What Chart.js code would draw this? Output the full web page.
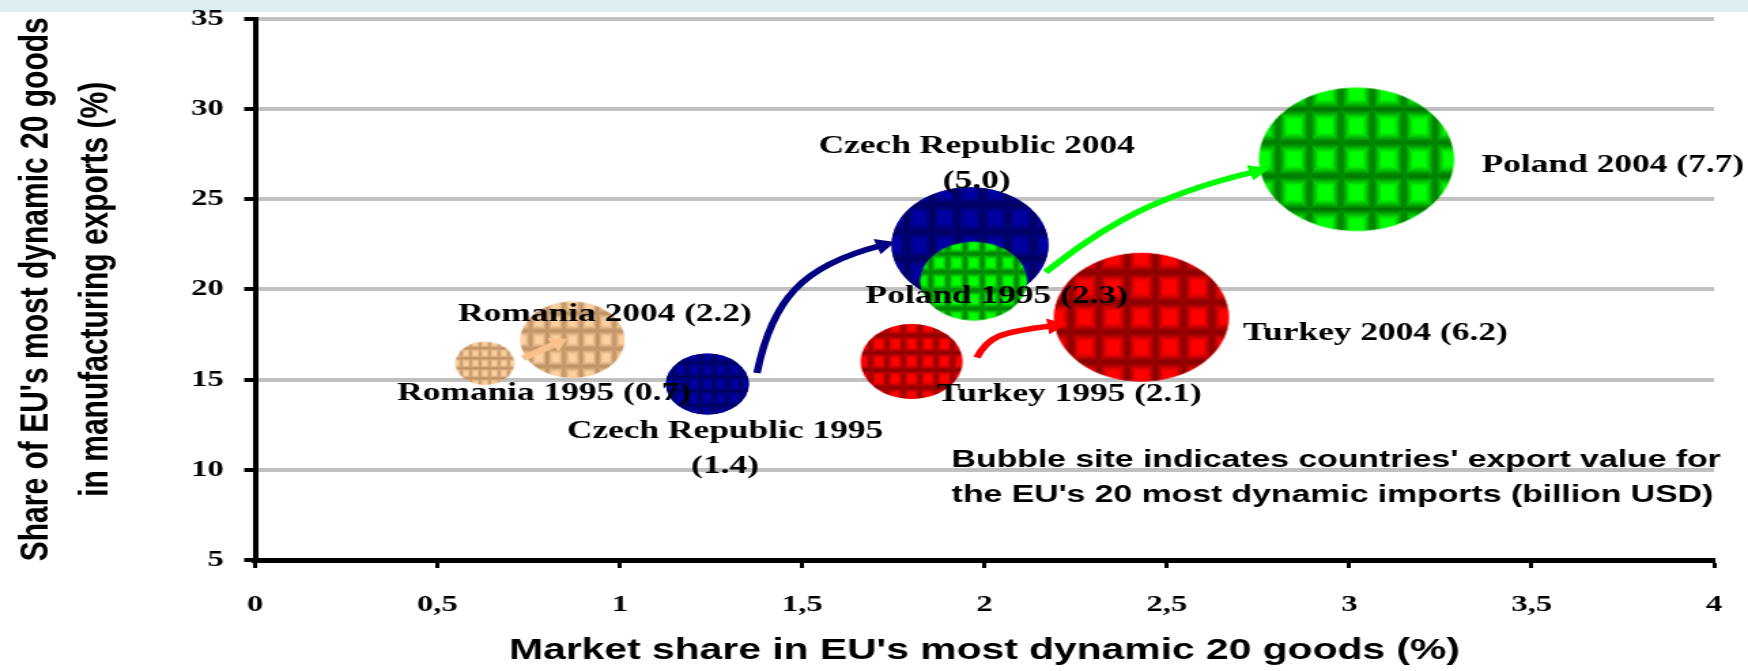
<!DOCTYPE html>
<html>
<head>
<meta charset="utf-8">
<script src="https://cdn.jsdelivr.net/npm/chart.js@4/dist/chart.umd.min.js"></script>
<style>
html,body{margin:0;padding:0;background:#fff;overflow:hidden}
#c{display:block;width:1748px;height:671px}
</style>
</head>
<body>
<canvas id="c" width="1285" height="671" style="width:1748px;height:671px"></canvas>
<script>
// ---------------- DATA ----------------
const countries = ['Romania', 'Czech Republic', 'Poland', 'Turkey'];
const years = ['1995', '2004'];
// Market share in EU's most dynamic 20 goods (%)
const share1995 = [0.63, 1.24, 1.97, 1.80];
const share2004 = [0.87, 1.96, 3.02, 2.43];
// Share of EU's most dynamic 20 goods in manufacturing exports (%)
const dyn1995 = [15.9, 14.75, 20.45, 16.0];
const dyn2004 = [17.2, 22.45, 27.2, 18.45];
// Export value for the EU's 20 most dynamic imports (billion USD)
const exp1995 = [0.7, 1.4, 2.3, 2.1];
const exp2004 = [2.2, 5.0, 7.7, 6.2];
const xTickLabels = ['0', '0,5', '1', '1,5', '2', '2,5', '3', '3,5', '4'];
const yTickLabels = ['5', '10', '15', '20', '25', '30', '35'];
const xTitle = "Market share in EU's most dynamic 20 goods (%)";
const yTitle = ["Share of EU's most dynamic 20 goods", "in manufacturing exports (%)"];
const note = ["Bubble site indicates countries' export value for", "the EU's 20 most dynamic imports (billion USD)"];

// ---------------- STYLE ----------------
const BUBBLE_SCALE = 25.8;
const darkCol = ['#b4865a', '#000058', '#006a00', '#780000'];
const lightCol = ['#fcd1a0', '#0000a2', '#00ff00', '#ff0000'];
const arrowCol = ['#f9c28c', '#000080', '#00ff00', '#ff0000'];
const serif = "'Liberation Serif','Times New Roman',serif";
const sans = "'Liberation Sans',Arial,sans-serif";

// label placement (pixel offsets from bubble centre)
const labelPos = [
  [{dx: 43.5, dy: 37}, {dx: 13, dy: 54}, {dx: 17, dy: 22}, {dx: 116, dy: 40}],
  [{dx: 24, dy: -19}, {dx: 5, dy: -92}, {dx: 92, dy: 13, align: 'left'}, {dx: 172, dy: 23}]
];
// note placement (data coordinates of each line's left baseline)
const notePos = {x: 1.91, y: [10.15, 8.2]};
// arrow geometry (pixel offsets)
const arrowGeom = [
  {s: [28, -5], e: [-4, -1], c1: [0, 0], c2: [0, 0], w: 6, hl: 12, hw: 8, straight: true},
  {s: [36.5, -11], e: [-55, -3], c1: [11, -73], c2: [-58, 20], w: 5.5, hl: 14, hw: 8},
  {s: [53, -9], e: [-64, 9], c1: [32, -34], c2: [-84, 27], w: 5.5, hl: 15, hw: 8},
  {s: [48, -4], e: [-55, 7], c1: [8, -20], c2: [-39, 6], w: 5.5, hl: 14, hw: 8}
];

function rad(v) { return Math.sqrt(v) * BUBBLE_SCALE; }

function tri(g, ax, ay, bx, by, mx, my, gx0, gy0, gx1, gy1, dark, light) {
  const gr = g.createLinearGradient(gx0, gy0, gx1, gy1);
  gr.addColorStop(0, dark);
  gr.addColorStop(0.6, light);
  gr.addColorStop(1, light);
  g.fillStyle = gr;
  g.beginPath(); g.moveTo(ax, ay); g.lineTo(bx, by); g.lineTo(mx, my); g.closePath(); g.fill();
}

function makeBubbleImage(r, dark, light) {
  const size = Math.ceil(2 * r) + 2;
  const c = document.createElement('canvas');
  c.width = size; c.height = size;
  const g = c.getContext('2d');
  const cx = size / 2, cy = size / 2;
  g.save();
  g.beginPath(); g.arc(cx, cy, r, 0, Math.PI * 2); g.clip();
  g.fillStyle = light; g.fillRect(0, 0, size, size);
  const cw = 2 * r / 6.2, ch = 2 * r / 4.3;
  const ox = cx - r - cw * 0.4, oy = cy - r - ch * 0.35;
  for (let x0 = ox; x0 < size; x0 += cw) {
    for (let y0 = oy; y0 < size; y0 += ch) {
      const x1 = x0 + cw, y1 = y0 + ch, mx = x0 + cw / 2, my = y0 + ch / 2;
      tri(g, x0, y0, x1 + 0.3, y0, mx, my, mx, y0, mx, my, dark, light);
      tri(g, x0, y1, x1 + 0.3, y1, mx, my, mx, y1, mx, my, dark, light);
      tri(g, x0, y0, x0, y1 + 0.3, mx, my, x0, my, mx, my, dark, light);
      tri(g, x1, y0, x1, y1 + 0.3, mx, my, x1, my, mx, my, dark, light);
    }
  }
  g.restore();
  return c;
}

const images = [
  exp1995.map((v, i) => makeBubbleImage(rad(v), darkCol[i], lightCol[i])),
  exp2004.map((v, i) => makeBubbleImage(rad(v), darkCol[i], lightCol[i]))
];

function labelLines(i, year, v) {
  const t = `${countries[i]} ${year}`;
  const val = `(${v.toFixed(1)})`;
  return countries[i] === 'Czech Republic' ? [t, val] : [`${t} ${val}`];
}

const bandPlugin = {
  id: 'band',
  beforeDraw(chart) {
    const ctx = chart.ctx;
    ctx.save();
    ctx.fillStyle = '#ffffff';
    ctx.fillRect(0, 0, chart.width, chart.height);
    ctx.fillStyle = '#ddeef2';
    ctx.fillRect(0, 0, chart.width, 12);
    ctx.restore();
  }
};

function drawArrow(ctx, p0, p1, p2, p3, col, w, hl, hw) {
  const ang = Math.atan2(p3[1] - p2[1], p3[0] - p2[0]);
  const ux = Math.cos(ang), uy = Math.sin(ang);
  const end = [p3[0] - ux * hl * 0.8, p3[1] - uy * hl * 0.8];
  const c2 = [p2[0] - ux * hl * 0.8, p2[1] - uy * hl * 0.8];
  ctx.save();
  ctx.strokeStyle = col; ctx.fillStyle = col; ctx.lineWidth = w; ctx.lineCap = 'butt';
  ctx.beginPath();
  ctx.moveTo(p0[0], p0[1]);
  ctx.bezierCurveTo(p1[0], p1[1], c2[0], c2[1], end[0], end[1]);
  ctx.stroke();
  const bx = p3[0] - ux * hl, by = p3[1] - uy * hl;
  ctx.beginPath();
  ctx.moveTo(p3[0], p3[1]);
  ctx.lineTo(bx - uy * hw, by + ux * hw);
  ctx.lineTo(bx + uy * hw, by - ux * hw);
  ctx.closePath(); ctx.fill();
  ctx.restore();
}

const annotPlugin = {
  id: 'annot',
  afterDatasetsDraw(chart) {
    const ctx = chart.ctx;
    const m95 = chart.getDatasetMeta(0).data, m04 = chart.getDatasetMeta(1).data;
    // arrows
    countries.forEach((c, i) => {
      const a = arrowGeom[i];
      const s = [m95[i].x + a.s[0], m95[i].y + a.s[1]];
      const e = [m04[i].x + a.e[0], m04[i].y + a.e[1]];
      let c1, c2;
      if (a.straight) { c1 = [s[0] + (e[0] - s[0]) / 3, s[1] + (e[1] - s[1]) / 3]; c2 = [s[0] + 2 * (e[0] - s[0]) / 3, s[1] + 2 * (e[1] - s[1]) / 3]; }
      else { c1 = [s[0] + a.c1[0], s[1] + a.c1[1]]; c2 = [e[0] + a.c2[0], e[1] + a.c2[1]]; }
      drawArrow(ctx, s, c1, c2, e, arrowCol[i], a.w, a.hl, a.hw);
    });
    // labels
    ctx.save();
    ctx.fillStyle = '#000';
    ctx.font = `bold 26px ${serif}`;
    ctx.textBaseline = 'alphabetic';
    [[m95, exp1995], [m04, exp2004]].forEach(([meta, vals], k) => {
      vals.forEach((v, i) => {
        const p = labelPos[k][i];
        const lines = labelLines(i, years[k], v);
        ctx.textAlign = p.align || 'center';
        lines.forEach((ln, j) => ctx.fillText(ln, meta[i].x + p.dx, meta[i].y + p.dy + j * 35));
      });
    });
    // note
    ctx.font = `bold 24.8px ${sans}`;
    ctx.textAlign = 'left';
    const xs = chart.scales.x, ys = chart.scales.y;
    note.forEach((ln, j) => ctx.fillText(ln, xs.getPixelForValue(notePos.x), ys.getPixelForValue(notePos.y[j])));
    ctx.restore();
  }
};

const toPoints = (xs, ys, vs) => xs.map((x, i) => ({x, y: ys[i], r: rad(vs[i])}));

new Chart(document.getElementById('c'), {
  type: 'bubble',
  data: {
    datasets: [
      {label: '1995', data: toPoints(share1995, dyn1995, exp1995)},
      {label: '2004', data: toPoints(share2004, dyn2004, exp2004)}
    ]
  },
  options: {
    responsive: false,
    animation: false,
    events: [],
    layout: {autoPadding: false, padding: {top: 18.5, right: 25, left: 0, bottom: 0}},
    elements: {
      point: {
        pointStyle: (ctx) => images[ctx.datasetIndex][ctx.dataIndex],
        backgroundColor: 'rgba(0,0,0,0)', borderWidth: 0
      }
    },
    plugins: {legend: {display: false}, tooltip: {enabled: false}, title: {display: false}},
    scales: {
      x: {
        type: 'linear', min: 0, max: 4,
        afterFit: (s) => { s.height = 111; s.paddingLeft = 0; s.paddingRight = 0; },
        ticks: {
          stepSize: 0.5, padding: 22, color: '#000',
          font: {family: serif, size: 24, weight: 'bold'},
          callback: (v, i) => xTickLabels[i]
        },
        grid: {display: true, drawOnChartArea: false, drawTicks: true, tickLength: 8, tickWidth: 3, tickColor: '#000'},
        border: {display: true, color: '#000', width: 5},
        title: {display: true, text: xTitle, color: '#000', padding: {top: 0, bottom: 2},
          font: {family: sans, size: 30, weight: 'bold', lineHeight: 1.2}}
      },
      y: {
        type: 'linear', min: 5, max: 35,
        afterFit: (s) => { s.width = 187.5; s.paddingTop = 0; s.paddingBottom = 0; },
        ticks: {
          stepSize: 5, padding: 15, color: '#000',
          font: {family: serif, size: 24, weight: 'bold'},
          callback: (v, i) => yTickLabels[i]
        },
        grid: {display: true, color: '#c0c0c0', lineWidth: 4, drawTicks: true, tickLength: 8, tickWidth: 4, tickColor: '#000'},
        border: {display: true, color: '#000', width: 4},
        title: {display: true, text: yTitle, color: '#000', padding: {top: 5, bottom: 0},
          font: {family: sans, size: 30, weight: 'bold', lineHeight: 1.47}}
      }
    }
  },
  plugins: [bandPlugin, annotPlugin]
});
</script>
</body>
</html>
